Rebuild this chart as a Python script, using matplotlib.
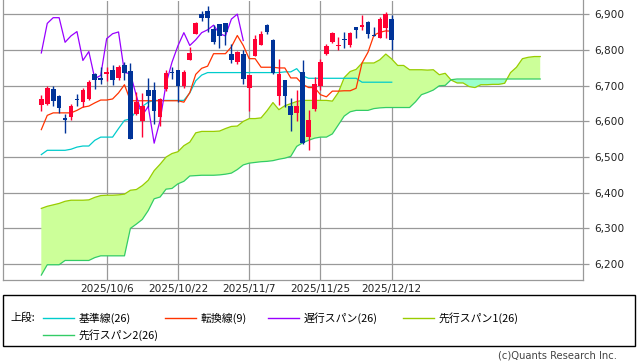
import matplotlib
matplotlib.use('Agg')
import matplotlib.pyplot as plt
import numpy as np
import pandas as pd
from matplotlib.lines import Line2D
from matplotlib.patches import Rectangle
from matplotlib.ticker import FuncFormatter

plt.rcParams['font.family'] = ['DejaVu Sans']

# ---------------- data ----------------
dates = pd.bdate_range('2025-09-19', '2025-12-12')
dates = dates[dates != pd.Timestamp('2025-11-27')]

opens = [6645, 6650, 6692, 6670, 6610, 6612, 6663, 6655, 6662, 6732,
         6723, 6734, 6745, 6722, 6759, 6741, 6620, 6601, 6689, 6689,
         6612, 6690, 6738, 6743, 6700, 6771, 6844, 6900, 6911, 6860,
         6872, 6875, 6788, 6766, 6788, 6695, 6783, 6813, 6871, 6827,
         6671, 6715, 6642, 6624, 6738, 6555, 6634, 6700, 6790, 6822,
         6812, 6830, 6813, 6866, 6865, 6878, 6843, 6835, 6862, 6888]
highs = [6675, 6698, 6700, 6675, 6620, 6648, 6678, 6693, 6717, 6735,
         6752, 6752, 6757, 6757, 6766, 6765, 6682, 6680, 6723, 6710,
         6666, 6743, 6752, 6743, 6745, 6808, 6878, 6911, 6923, 6871,
         6872, 6875, 6818, 6797, 6799, 6731, 6843, 6855, 6872, 6830,
         6776, 6715, 6667, 6687, 6771, 6631, 6724, 6776, 6818, 6851,
         6836, 6852, 6852, 6866, 6898, 6882, 6866, 6892, 6906, 6899]
lows = [6629, 6647, 6643, 6624, 6568, 6603, 6642, 6640, 6661, 6690,
        6704, 6712, 6701, 6715, 6715, 6550, 6617, 6555, 6640, 6594,
        6586, 6685, 6720, 6654, 6695, 6771, 6844, 6883, 6851, 6817,
        6806, 6815, 6765, 6760, 6704, 6629, 6783, 6813, 6846, 6733,
        6645, 6640, 6573, 6601, 6536, 6519, 6630, 6689, 6786, 6820,
        6801, 6807, 6810, 6835, 6857, 6835, 6839, 6834, 6835, 6800]
closes = [6664, 6694, 6657, 6638, 6605, 6644, 6661, 6688, 6711, 6715,
          6716, 6740, 6715, 6754, 6735, 6552, 6655, 6644, 6671, 6629,
          6664, 6735, 6735, 6699, 6738, 6792, 6875, 6891, 6891, 6822,
          6840, 6852, 6771, 6796, 6720, 6729, 6832, 6846, 6851, 6737,
          6734, 6672, 6617, 6642, 6539, 6603, 6705, 6766, 6812, 6849,
          6813, 6829, 6849, 6857, 6870, 6846, 6840, 6887, 6901, 6827]

kijun = [6507, 6519, 6519, 6519, 6519, 6522, 6528, 6531, 6531, 6547,
         6556, 6556, 6556, 6580, 6603, 6607, 6630, 6642, 6654, 6659,
         6659, 6659, 6659, 6659, 6659, 6680, 6714, 6730, 6737, 6737,
         6737, 6737, 6737, 6737, 6737, 6737, 6737, 6737, 6737, 6737,
         6737, 6739, 6739, 6748, 6728, 6721, 6721, 6721, 6721, 6721,
         6721, 6721, 6721, 6721, 6710, 6710, 6710, 6710, 6710, 6710]
tenkan = [6577, 6617, 6624, 6624, 6624, 6624, 6631, 6640, 6643, 6652,
          6660, 6660, 6663, 6680, 6703, 6658, 6658, 6658, 6658, 6658,
          6658, 6658, 6658, 6658, 6654, 6681, 6732, 6749, 6755, 6790,
          6790, 6790, 6809, 6841, 6813, 6776, 6776, 6752, 6752, 6752,
          6750, 6750, 6722, 6722, 6704, 6695, 6695, 6675, 6669, 6685,
          6685, 6686, 6686, 6693, 6764, 6794, 6842, 6850, 6854, 6853]
span1 = [6356, 6362, 6366, 6370, 6376, 6379, 6379, 6379, 6380, 6387,
         6392, 6393, 6393, 6394, 6396, 6407, 6409, 6420, 6435, 6462,
         6480, 6500, 6510, 6515, 6532, 6542, 6568, 6572, 6572, 6572,
         6573, 6580, 6586, 6587, 6600, 6608, 6608, 6610, 6630, 6653,
         6633, 6644, 6650, 6656, 6659, 6659, 6659, 6659, 6659, 6657,
         6681, 6723, 6740, 6746, 6764, 6764, 6764, 6773, 6789, 6775,
         6757, 6757, 6745, 6745, 6745, 6744, 6745, 6731, 6735, 6716,
         6708, 6708, 6698, 6695, 6703, 6703, 6704, 6704, 6707, 6737,
         6752, 6776, 6780, 6782, 6782]
span2 = [6169, 6198, 6198, 6198, 6210, 6210, 6210, 6210, 6210, 6218,
         6223, 6223, 6223, 6223, 6223, 6300, 6312, 6325, 6350, 6383,
         6388, 6410, 6412, 6425, 6432, 6447, 6448, 6449, 6449, 6449,
         6450, 6452, 6455, 6465, 6478, 6483, 6485, 6487, 6488, 6490,
         6494, 6497, 6502, 6530, 6540, 6547, 6553, 6556, 6556, 6565,
         6590, 6615, 6627, 6631, 6631, 6631, 6636, 6638, 6639, 6639,
         6639, 6639, 6639, 6655, 6675, 6681, 6688, 6700, 6701, 6717,
         6719, 6719, 6719, 6719, 6719, 6719, 6719, 6719, 6719, 6719,
         6719, 6719, 6719, 6719, 6719]
chikou_shift = 25

tick_dates = ['2025/10/6', '2025/10/22', '2025/11/7', '2025/11/25', '2025/12/12']
legend_prefix = '上段:'
legend_labels = ['基準線(26)', '転換線(9)', '遅行スパン(26)', '先行スパン1(26)', '先行スパン2(26)']
credit = '(c)Quants Research Inc.'

# ---------------- styles ----------------
C_KIJUN = '#00cccc'
C_TENKAN = '#ff3300'
C_CHIKOU = '#9900ff'
C_SPAN1 = '#99cc00'
C_SPAN2 = '#33cc66'
C_UP = '#ff0033'
C_DOWN = '#003399'
C_GRID = '#999999'

W, H = 638, 362
fig = plt.figure(figsize=(W / 100, H / 100), dpi=100)
ax = fig.add_axes([3.3 / W, 1 - 280 / H, (582.7 - 3.3) / W, 279.5 / H])

n = len(closes)
x = np.arange(n)
xs = np.arange(len(span1))

o = np.array(opens, float); c = np.array(closes, float)
hi = np.array(highs, float); lo = np.array(lows, float)
s1 = np.array(span1, float); s2 = np.array(span2, float)

# cloud
ax.fill_between(xs, s1, s2, where=s1 >= s2, interpolate=True, color='#ccff99', lw=0, zorder=1)
ax.fill_between(xs, s1, s2, where=s1 < s2, interpolate=True, color='#99ffcc', lw=0, zorder=1)
ax.plot(xs, s1, color=C_SPAN1, lw=0.9, zorder=2)
ax.plot(xs, s2, color=C_SPAN2, lw=0.9, zorder=2)

ax.plot(x, kijun, color=C_KIJUN, lw=0.9, zorder=3)
ax.plot(x, tenkan, color=C_TENKAN, lw=0.9, zorder=3)
ax.plot(x[:n - chikou_shift], c[chikou_shift:], color=C_CHIKOU, lw=0.9, zorder=3)

# candles
up = c >= o
cols = np.where(up, C_UP, C_DOWN)
ax.vlines(x, lo, hi, colors=cols, lw=1.0, zorder=4)
body_bottom = np.minimum(o, c)
body_h = np.maximum(np.abs(c - o), 2.8)
ax.bar(x, body_h, bottom=body_bottom, width=0.78, color=cols, lw=0, zorder=5)

ax.set_xlim(-6.4, 91.15)
ax.set_ylim(6155.2, 6939.2)

# ticks
tick_pos = [dates.get_loc(pd.Timestamp(d.replace('/', '-'))) for d in tick_dates]
ax.set_xticks(tick_pos)
ax.set_xticklabels(tick_dates, fontsize=7.6, color='#222222')
ax.tick_params(axis='x', length=0, pad=3)
ax.set_yticks(np.arange(6200, 6901, 100))
ax.yaxis.set_major_formatter(FuncFormatter(lambda v, p: f'{int(v):,}'))
ax.yaxis.tick_right()
ax.tick_params(axis='y', length=4, color=C_GRID, width=0.9, pad=4, labelsize=7.6, labelcolor='#222222')
ax.grid(True, color=C_GRID, lw=0.9, zorder=0)
ax.set_axisbelow(True)
for s in ax.spines.values():
    s.set_color(C_GRID)
    s.set_linewidth(0.9)
ax.spines['top'].set_visible(False)

# legend box
def fx(px):
    return px / W

def fy(py):
    return 1 - py / H

fig.patches.append(Rectangle((fx(3), fy(346)), fx(635) - fx(3), fy(295) - fy(346),
                             transform=fig.transFigure, fill=False, edgecolor='black', lw=1.0))
jp = ['Noto Sans CJK JP', 'DejaVu Sans']
fig.text(fx(10), fy(318), legend_prefix, fontsize=7.8, family=jp, va='center', ha='left')
items = [(C_KIJUN, 43, 318), (C_TENKAN, 165, 318), (C_CHIKOU, 268, 318), (C_SPAN1, 403, 318), (C_SPAN2, 43, 335)]
for (col, lx, ly), lab in zip(items, legend_labels):
    fig.lines.append(Line2D([fx(lx), fx(lx + 31)], [fy(ly), fy(ly)], transform=fig.transFigure, color=col, lw=1.0))
    fig.text(fx(lx + 36), fy(ly), lab, fontsize=7.8, family=jp, va='center', ha='left')

fig.text(fx(617), fy(355), credit, fontsize=7.2, ha='right', va='center', color='#444444')

fig.savefig('out.png', dpi=100)
